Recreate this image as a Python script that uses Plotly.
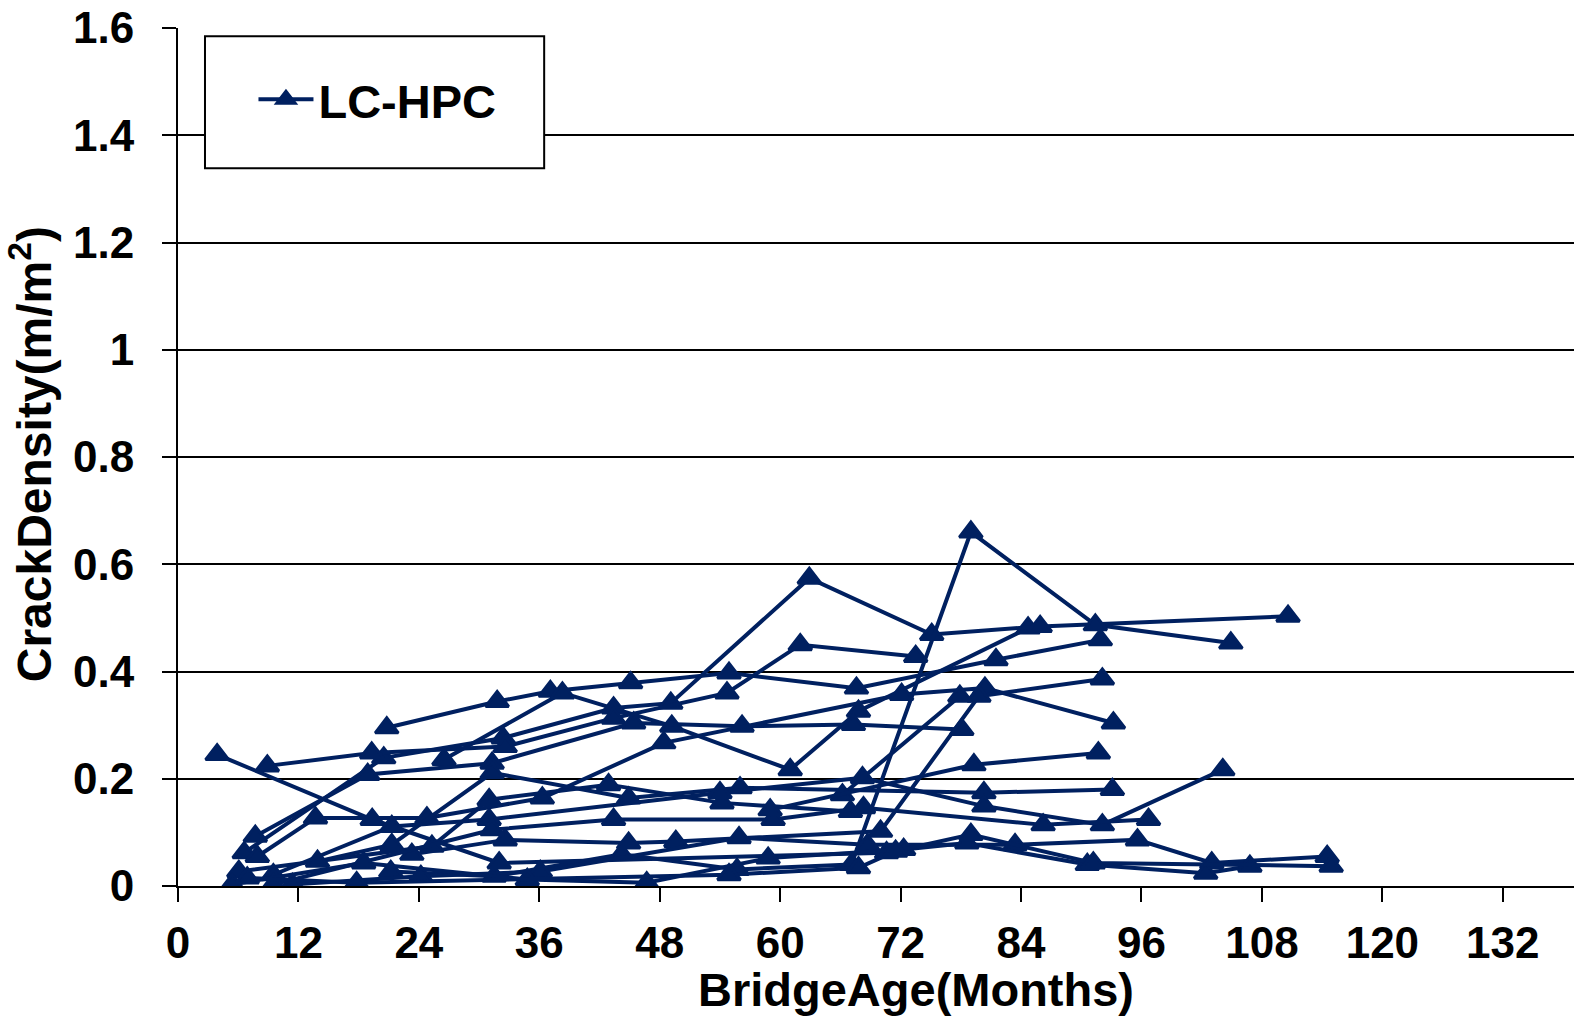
import plotly.graph_objects as go

# ---- data: bridge age (months) and crack density (m/m^2), one pair of lists per bridge ----
B01_AGE = [20.8, 31.8, 37.1, 45.1, 54.9, 67.6, 81.5, 91.9]
B01_CD = [0.295, 0.344, 0.363, 0.379, 0.397, 0.369, 0.422, 0.459]
B02_AGE = [26.5, 38.3, 49.2, 61.0, 67.8, 84.7]
B02_CD = [0.236, 0.360, 0.298, 0.217, 0.326, 0.481]
B03_AGE = [6.6, 20.5, 32.4, 43.4, 49.1, 62.9, 75.1, 85.9, 110.6]
B03_CD = [0.062, 0.239, 0.276, 0.332, 0.341, 0.574, 0.469, 0.484, 0.503]
B04_AGE = [8.9, 19.3, 32.6, 43.4, 54.7, 62.0, 73.5]
B04_CD = [0.224, 0.248, 0.260, 0.313, 0.360, 0.450, 0.428]
B05_AGE = [21.2, 31.5, 44.2, 55.7, 67.1, 79.0, 91.4, 104.9]
B05_CD = [0.027, 0.018, 0.059, 0.031, 0.040, 0.660, 0.487, 0.453]
B06_AGE = [3.9, 19.35, 32.0, 70.6]
B06_CD = [0.245, 0.124, 0.043, 0.062]
B07_AGE = [7.7, 18.9, 31.3, 45.4, 56.2, 67.3, 78.1]
B07_CD = [0.093, 0.208, 0.229, 0.304, 0.298, 0.301, 0.292]
B08_AGE = [7.9, 13.7, 24.8, 36.3, 48.4, 72.1, 80.4, 93.2]
B08_CD = [0.055, 0.127, 0.127, 0.164, 0.267, 0.357, 0.369, 0.304]
B09_AGE = [23.3, 32.6, 44.9, 49.6, 70.0, 79.8, 92.1]
B09_CD = [0.059, 0.086, 0.080, 0.083, 0.102, 0.354, 0.386]
B10_AGE = [6.06, 25.3, 31.0, 42.9, 54.2, 67.0]
B10_CD = [0.027, 0.074, 0.161, 0.189, 0.155, 0.139]
B11_AGE = [13.9, 21.3, 31.3, 44.9, 56.0, 80.3, 93.1]
B11_CD = [0.046, 0.077, 0.211, 0.164, 0.183, 0.174, 0.180]
B12_AGE = [9.5, 21.3, 31.0, 54.0, 68.2, 80.3, 92.1, 104.1]
B12_CD = [0.021, 0.111, 0.124, 0.174, 0.202, 0.149, 0.114, 0.217]
B13_AGE = [9.5, 31.3, 43.4, 59.3, 68.3, 86.2, 96.7]
B13_CD = [0.003, 0.105, 0.124, 0.124, 0.146, 0.114, 0.124]
B14_AGE = [11.4, 24.2, 36.1, 55.9, 68.7, 83.4, 95.6, 103.0, 114.5]
B14_CD = [0.003, 0.018, 0.027, 0.090, 0.077, 0.077, 0.086, 0.043, 0.055]
B15_AGE = [5.4, 18.5, 34.8, 46.7, 58.8, 72.3, 78.6, 90.6, 102.4, 106.8]
B15_CD = [0.003, 0.043, 0.012, 0.006, 0.052, 0.068, 0.080, 0.040, 0.024, 0.037]
B16_AGE = [6.9, 17.8, 54.9, 67.8, 71.5, 79.0, 91.2, 114.9]
B16_CD = [0.015, 0.006, 0.021, 0.034, 0.065, 0.096, 0.043, 0.037]
B17_AGE = [66.2, 77.9]
B17_CD = [0.170, 0.354]
B18_AGE = [59.0, 79.3, 91.7]
B18_CD = [0.142, 0.226, 0.248]

SERIES = [
    (B01_AGE, B01_CD), (B02_AGE, B02_CD), (B03_AGE, B03_CD), (B04_AGE, B04_CD),
    (B05_AGE, B05_CD), (B06_AGE, B06_CD), (B07_AGE, B07_CD), (B08_AGE, B08_CD),
    (B09_AGE, B09_CD), (B10_AGE, B10_CD), (B11_AGE, B11_CD), (B12_AGE, B12_CD),
    (B13_AGE, B13_CD), (B14_AGE, B14_CD), (B15_AGE, B15_CD), (B16_AGE, B16_CD),
    (B17_AGE, B17_CD), (B18_AGE, B18_CD),
]

X_TICKS = [0, 12, 24, 36, 48, 60, 72, 84, 96, 108, 120, 132]
Y_TICKS = [0, 0.2, 0.4, 0.6, 0.8, 1.0, 1.2, 1.4, 1.6]
Y_TICK_TEXT = ["0", "0.2", "0.4", "0.6", "0.8", "1", "1.2", "1.4", "1.6"]
LEGEND_NAME = "LC-HPC"
X_TITLE = "BridgeAge(Months)"
Y_TITLE = "CrackDensity(m/m<sup>2</sup>)"

NAVY = "#002060"
FONT = "Liberation Sans, Arial, Helvetica, sans-serif"

W, H = 1574, 1019
ML, MR, MT, MB = 177.5, 0, 28.2, 1019 - 886.4
PW = W - ML - MR
PH = H - MT - MB

fig = go.Figure()
for i, (ax, cd) in enumerate(SERIES):
    fig.add_trace(go.Scatter(
        x=ax, y=cd, mode="lines+markers",
        name=LEGEND_NAME, showlegend=(i == 0),
        line=dict(color=NAVY, width=4),
        marker=dict(symbol="triangle-up", size=20, color=NAVY,
                    line=dict(color=NAVY, width=3)),
        hoverinfo="skip",
    ))

def px_to_paper_x(px):
    return (px - ML) / PW

def px_to_paper_y(py):
    return (H - MB - py) / PH

x_max = PW / 10.04

fig.update_layout(
    width=W, height=H,
    margin=dict(l=ML, r=MR, t=MT, b=MB, pad=0),
    paper_bgcolor="white", plot_bgcolor="white",
    font=dict(family=FONT, color="black"),
    xaxis=dict(
        range=[0, x_max], tickmode="array", tickvals=X_TICKS,
        ticks="outside", ticklen=14, tickwidth=2, tickcolor="black",
        showline=True, linecolor="black", linewidth=2,
        showgrid=False, zeroline=False,
        tickfont=dict(family=FONT, size=44, color="black", weight="bold"),
        ticklabelstandoff=3,
    ),
    yaxis=dict(
        range=[0, 1.6], tickmode="array", tickvals=Y_TICKS, ticktext=Y_TICK_TEXT,
        ticks="outside", ticklen=14, tickwidth=2, tickcolor="black",
        showline=True, linecolor="black", linewidth=2,
        showgrid=True, gridcolor="black", gridwidth=2,
        zeroline=False,
        tickfont=dict(family=FONT, size=44, color="black", weight="bold"),
        ticklabelstandoff=19,
    ),
    showlegend=True,
    legend=dict(
        x=px_to_paper_x(253), y=px_to_paper_y(100), xanchor="left", yanchor="middle",
        bgcolor="rgba(0,0,0,0)", borderwidth=0,
        font=dict(family=FONT, size=47, color="black", weight="bold"),
        itemwidth=55,
    ),
    shapes=[dict(
        type="rect", xref="paper", yref="paper", layer="above",
        x0=px_to_paper_x(204.5), x1=px_to_paper_x(543.8),
        y0=px_to_paper_y(168.5), y1=px_to_paper_y(36.5),
        line=dict(color="black", width=2), fillcolor="white",
    )],
    annotations=[
        dict(text=X_TITLE, xref="paper", yref="paper",
             x=px_to_paper_x(916), y=px_to_paper_y(990),
             xanchor="center", yanchor="middle", showarrow=False,
             font=dict(family=FONT, size=47, color="black", weight="bold")),
        dict(text=Y_TITLE, xref="paper", yref="paper", textangle=-90,
             x=px_to_paper_x(30), y=px_to_paper_y(455),
             xanchor="center", yanchor="middle", showarrow=False,
             font=dict(family=FONT, size=48, color="black", weight="bold")),
    ],
)

fig.write_html("out.html")
